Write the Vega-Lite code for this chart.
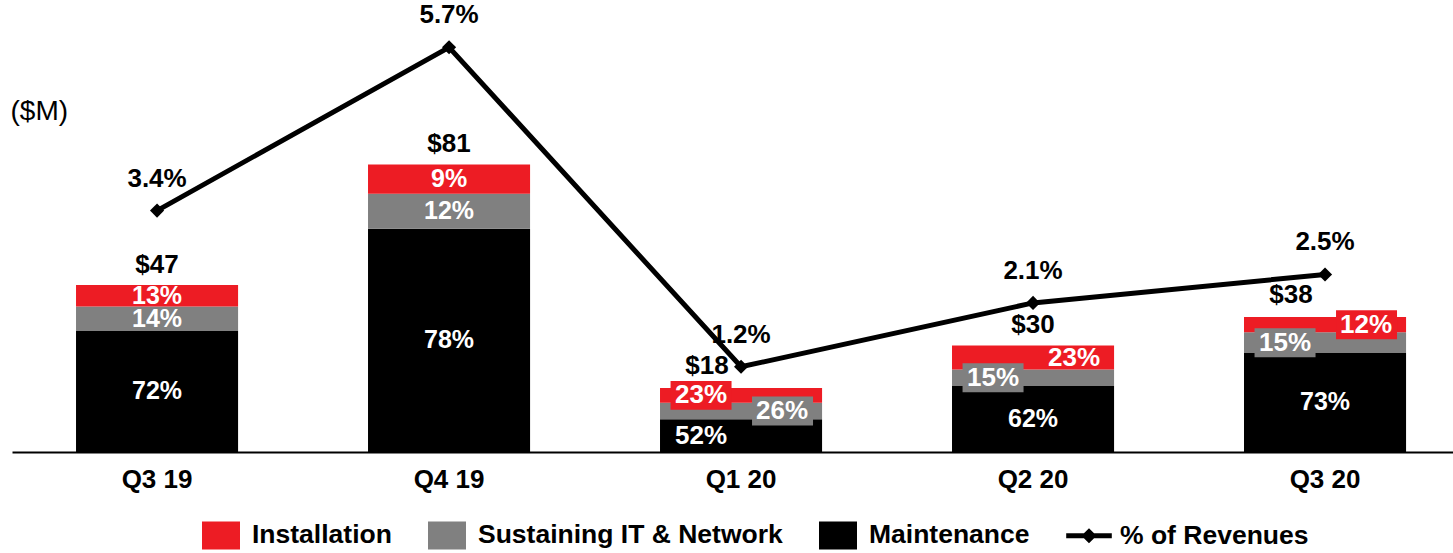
{
  "$schema": "https://vega.github.io/schema/vega-lite/v6.json",
  "width": 1441,
  "height": 452,
  "autosize": {"type": "none"},
  "padding": {"left": 12, "top": 0, "right": 0, "bottom": 101},
  "background": "white",
  "datasets": {
    "segments": [
      {"q": "Q3 19", "series": "Maintenance", "amount": 34.1, "share": 0.72},
      {"q": "Q3 19", "series": "Sustaining IT & Network", "amount": 6.9, "share": 0.14},
      {"q": "Q3 19", "series": "Installation", "amount": 6.0, "share": 0.13},
      {"q": "Q4 19", "series": "Maintenance", "amount": 62.9, "share": 0.78},
      {"q": "Q4 19", "series": "Sustaining IT & Network", "amount": 9.8, "share": 0.12},
      {"q": "Q4 19", "series": "Installation", "amount": 8.3, "share": 0.09},
      {"q": "Q1 20", "series": "Maintenance", "amount": 9.2, "share": 0.52},
      {"q": "Q1 20", "series": "Sustaining IT & Network", "amount": 4.7, "share": 0.26},
      {"q": "Q1 20", "series": "Installation", "amount": 4.1, "share": 0.23},
      {"q": "Q2 20", "series": "Maintenance", "amount": 18.6, "share": 0.62},
      {"q": "Q2 20", "series": "Sustaining IT & Network", "amount": 4.6, "share": 0.15},
      {"q": "Q2 20", "series": "Installation", "amount": 6.8, "share": 0.23},
      {"q": "Q3 20", "series": "Maintenance", "amount": 27.9, "share": 0.73},
      {"q": "Q3 20", "series": "Sustaining IT & Network", "amount": 5.8, "share": 0.15},
      {"q": "Q3 20", "series": "Installation", "amount": 4.3, "share": 0.12}
    ],
    "quarters": [
      {"q": "Q3 19", "total": 47, "pct": 0.034},
      {"q": "Q4 19", "total": 81, "pct": 0.057},
      {"q": "Q1 20", "total": 18, "pct": 0.012},
      {"q": "Q2 20", "total": 30, "pct": 0.021},
      {"q": "Q3 20", "total": 38, "pct": 0.025}
    ]
  },
  "config": {
    "view": {"stroke": null},
    "font": "Liberation Sans",
    "axisX": {"domain": true, "domainColor": "#000000", "domainWidth": 2, "ticks": false, "grid": false, "labelFont": "Liberation Sans", "labelFontSize": 26, "labelFontWeight": "bold", "labelColor": "#000000", "labelPadding": 14, "labelAngle": 0},
    "axisY": {"domain": false, "ticks": false, "grid": false, "labels": false, "titleAngle": 0, "titleX": -2, "titleY": 111, "titleAlign": "left", "titleBaseline": "middle", "titleFont": "Liberation Sans", "titleFontSize": 28, "titleFontWeight": "normal", "titleColor": "#000000"}
  },
  "layer": [
    {
      "layer": [
        {
          "data": {"name": "segments"},
          "transform": [{"stack": "amount", "groupby": ["q"], "as": ["y0", "y1"]}],
          "mark": {"type": "bar"},
          "encoding": {
            "x": {"field": "q", "type": "nominal", "sort": ["Q3 19", "Q4 19", "Q1 20", "Q2 20", "Q3 20"], "scale": {"paddingInner": 0.445, "paddingOuter": 0.19, "align": 0.577}, "title": null},
            "y": {"field": "y0", "type": "quantitative", "scale": {"domain": [0, 127.3], "nice": false, "zero": true}, "title": "($M)"},
            "y2": {"field": "y1"},
            "color": {
              "field": "series", "type": "nominal",
              "scale": {"domain": ["Installation", "Sustaining IT & Network", "Maintenance", "% of Revenues"], "range": ["#ED1C24", "#808080", "#000000", "#000000"]},
              "legend": {
                "title": null, "orient": "none", "legendX": 190, "legendY": 516, "direction": "horizontal", "columns": 4,
                "labelFont": "Liberation Sans", "labelFontSize": 26.5, "labelFontWeight": "bold", "labelColor": "#000000",
                "labelOffset": 12, "columnPadding": 36, "symbolSize": 1444, "symbolStrokeWidth": 0, "labelLimit": 500,
                "encode": {"symbols": {"update": {
                  "shape": {"signal": "datum.value === '% of Revenues' ? 'M-1.2,-0.13H1.2V0.13H-1.2Z M-0.4,0L0,-0.4L0.4,0L0,0.4Z' : 'M-1,-0.737H1V0.737H-1Z'"},
                  "fill": {"signal": "datum.value === 'Installation' ? '#ED1C24' : datum.value === 'Sustaining IT & Network' ? '#808080' : '#000000'"},
                  "stroke": {"value": "transparent"},
                  "opacity": {"value": 1}
                }}}
              }
            }
          }
        },
        {
          "data": {"name": "segments"},
          "transform": [
            {"stack": "amount", "groupby": ["q"], "as": ["y0", "y1"]},
            {"fold": ["y0", "y1"], "as": ["k", "yv"]},
            {"filter": "(datum.q === 'Q1 20' && datum.series === 'Installation') || (datum.series === 'Sustaining IT & Network' && (datum.q === 'Q2 20' || datum.q === 'Q3 20'))"}
          ],
          "mark": {"type": "point", "shape": "M-4.623,-0.95H-0.623V0.95H-4.623Z", "size": 930, "filled": true, "opacity": 1, "strokeWidth": 0},
          "encoding": {
            "x": {"field": "q", "type": "nominal", "sort": ["Q3 19", "Q4 19", "Q1 20", "Q2 20", "Q3 20"], "scale": {"paddingInner": 0.445, "paddingOuter": 0.19, "align": 0.577}, "title": null},
            "y": {"aggregate": "mean", "field": "yv", "type": "quantitative", "scale": {"domain": [0, 127.3], "nice": false, "zero": true}, "title": "($M)"},
            "detail": {"field": "series", "type": "nominal"},
            "fill": {"condition": {"test": "datum.series === 'Installation'", "value": "#ED1C24"}, "value": "#808080"}
          }
        },
        {
          "data": {"name": "segments"},
          "transform": [
            {"stack": "amount", "groupby": ["q"], "as": ["y0", "y1"]},
            {"fold": ["y0", "y1"], "as": ["k", "yv"]},
            {"filter": "(datum.q === 'Q1 20' && datum.series === 'Sustaining IT & Network') || (datum.q === 'Q3 20' && datum.series === 'Installation')"}
          ],
          "mark": {"type": "point", "shape": "M0.721,-0.95H4.721V0.95H0.721Z", "size": 930, "filled": true, "opacity": 1, "strokeWidth": 0},
          "encoding": {
            "x": {"field": "q", "type": "nominal", "sort": ["Q3 19", "Q4 19", "Q1 20", "Q2 20", "Q3 20"], "scale": {"paddingInner": 0.445, "paddingOuter": 0.19, "align": 0.577}, "title": null},
            "y": {"aggregate": "mean", "field": "yv", "type": "quantitative", "scale": {"domain": [0, 127.3], "nice": false, "zero": true}, "title": "($M)"},
            "detail": {"field": "series", "type": "nominal"},
            "fill": {"condition": {"test": "datum.series === 'Installation'", "value": "#ED1C24"}, "value": "#808080"}
          }
        },
        {
          "data": {"name": "segments"},
          "transform": [
            {"stack": "amount", "groupby": ["q"], "as": ["y0", "y1"]},
            {"fold": ["y0", "y1"], "as": ["k", "yv"]},
            {"filter": "!((datum.q === 'Q1 20') || (datum.q === 'Q2 20' && datum.series !== 'Maintenance') || (datum.q === 'Q3 20' && datum.series !== 'Maintenance'))"}
          ],
          "mark": {"type": "text", "font": "Liberation Sans", "fontSize": 25, "fontWeight": "bold", "color": "#ffffff", "align": "center", "baseline": "middle"},
          "encoding": {
            "x": {"field": "q", "type": "nominal", "sort": ["Q3 19", "Q4 19", "Q1 20", "Q2 20", "Q3 20"], "scale": {"paddingInner": 0.445, "paddingOuter": 0.19, "align": 0.577}, "title": null},
            "y": {"aggregate": "mean", "field": "yv", "type": "quantitative", "scale": {"domain": [0, 127.3], "nice": false, "zero": true}, "title": "($M)"},
            "detail": {"field": "series", "type": "nominal"},
            "text": {"field": "share", "type": "quantitative", "format": ".0%"}
          }
        },
        {
          "data": {"name": "segments"},
          "transform": [
            {"stack": "amount", "groupby": ["q"], "as": ["y0", "y1"]},
            {"fold": ["y0", "y1"], "as": ["k", "yv"]},
            {"filter": "(datum.q === 'Q1 20' && datum.series !== 'Sustaining IT & Network') || (datum.series === 'Sustaining IT & Network' && (datum.q === 'Q2 20' || datum.q === 'Q3 20'))"}
          ],
          "mark": {"type": "text", "font": "Liberation Sans", "fontSize": 26, "fontWeight": "bold", "color": "#ffffff", "align": "center", "baseline": "middle", "dx": -40},
          "encoding": {
            "x": {"field": "q", "type": "nominal", "sort": ["Q3 19", "Q4 19", "Q1 20", "Q2 20", "Q3 20"], "scale": {"paddingInner": 0.445, "paddingOuter": 0.19, "align": 0.577}, "title": null},
            "y": {"aggregate": "mean", "field": "yv", "type": "quantitative", "scale": {"domain": [0, 127.3], "nice": false, "zero": true}, "title": "($M)"},
            "detail": {"field": "series", "type": "nominal"},
            "text": {"field": "share", "type": "quantitative", "format": ".0%"}
          }
        },
        {
          "data": {"name": "segments"},
          "transform": [
            {"stack": "amount", "groupby": ["q"], "as": ["y0", "y1"]},
            {"fold": ["y0", "y1"], "as": ["k", "yv"]},
            {"filter": "(datum.q === 'Q1 20' && datum.series === 'Sustaining IT & Network') || (datum.series === 'Installation' && (datum.q === 'Q2 20' || datum.q === 'Q3 20'))"}
          ],
          "mark": {"type": "text", "font": "Liberation Sans", "fontSize": 26, "fontWeight": "bold", "color": "#ffffff", "align": "center", "baseline": "middle", "dx": 41},
          "encoding": {
            "x": {"field": "q", "type": "nominal", "sort": ["Q3 19", "Q4 19", "Q1 20", "Q2 20", "Q3 20"], "scale": {"paddingInner": 0.445, "paddingOuter": 0.19, "align": 0.577}, "title": null},
            "y": {"aggregate": "mean", "field": "yv", "type": "quantitative", "scale": {"domain": [0, 127.3], "nice": false, "zero": true}, "title": "($M)"},
            "detail": {"field": "series", "type": "nominal"},
            "text": {"field": "share", "type": "quantitative", "format": ".0%"}
          }
        },
        {
          "data": {"name": "quarters"},
          "transform": [{"filter": "datum.q !== 'Q1 20' && datum.q !== 'Q3 20'"}],
          "mark": {"type": "text", "font": "Liberation Sans", "fontSize": 26, "fontWeight": "bold", "color": "#000000", "align": "center", "baseline": "middle", "dy": -20},
          "encoding": {
            "x": {"field": "q", "type": "nominal", "sort": ["Q3 19", "Q4 19", "Q1 20", "Q2 20", "Q3 20"], "scale": {"paddingInner": 0.445, "paddingOuter": 0.19, "align": 0.577}, "title": null},
            "y": {"field": "total", "type": "quantitative", "scale": {"domain": [0, 127.3], "nice": false, "zero": true}, "title": "($M)"},
            "text": {"field": "total", "type": "quantitative", "format": "$.0f"}
          }
        },
        {
          "data": {"name": "quarters"},
          "transform": [{"filter": "datum.q === 'Q1 20' || datum.q === 'Q3 20'"}],
          "mark": {"type": "text", "font": "Liberation Sans", "fontSize": 26, "fontWeight": "bold", "color": "#000000", "align": "center", "baseline": "middle", "dy": -22, "dx": -34},
          "encoding": {
            "x": {"field": "q", "type": "nominal", "sort": ["Q3 19", "Q4 19", "Q1 20", "Q2 20", "Q3 20"], "scale": {"paddingInner": 0.445, "paddingOuter": 0.19, "align": 0.577}, "title": null},
            "y": {"field": "total", "type": "quantitative", "scale": {"domain": [0, 127.3], "nice": false, "zero": true}, "title": "($M)"},
            "text": {"field": "total", "type": "quantitative", "format": "$.0f"}
          }
        }
      ]
    },
    {
      "data": {"name": "quarters"},
      "layer": [
        {
          "mark": {"type": "line", "color": "#000000", "strokeWidth": 5, "strokeJoin": "miter"},
          "encoding": {
            "x": {"field": "q", "type": "nominal", "sort": ["Q3 19", "Q4 19", "Q1 20", "Q2 20", "Q3 20"], "scale": {"paddingInner": 0.445, "paddingOuter": 0.19, "align": 0.577}, "title": null},
            "y": {"field": "pct", "type": "quantitative", "scale": {"domain": [0, 0.06366], "nice": false, "zero": true}, "axis": null}
          }
        },
        {
          "mark": {"type": "point", "shape": "diamond", "size": 200, "filled": true, "color": "#000000", "opacity": 1},
          "encoding": {
            "x": {"field": "q", "type": "nominal", "sort": ["Q3 19", "Q4 19", "Q1 20", "Q2 20", "Q3 20"], "scale": {"paddingInner": 0.445, "paddingOuter": 0.19, "align": 0.577}, "title": null},
            "y": {"field": "pct", "type": "quantitative", "scale": {"domain": [0, 0.06366], "nice": false, "zero": true}, "axis": null}
          }
        },
        {
          "mark": {"type": "text", "font": "Liberation Sans", "fontSize": 26, "fontWeight": "bold", "color": "#000000", "align": "center", "baseline": "middle", "dy": -32},
          "encoding": {
            "x": {"field": "q", "type": "nominal", "sort": ["Q3 19", "Q4 19", "Q1 20", "Q2 20", "Q3 20"], "scale": {"paddingInner": 0.445, "paddingOuter": 0.19, "align": 0.577}, "title": null},
            "y": {"field": "pct", "type": "quantitative", "scale": {"domain": [0, 0.06366], "nice": false, "zero": true}, "axis": null},
            "text": {"field": "pct", "type": "quantitative", "format": ".1%"}
          }
        }
      ]
    }
  ],
  "resolve": {"scale": {"y": "independent"}}
}
